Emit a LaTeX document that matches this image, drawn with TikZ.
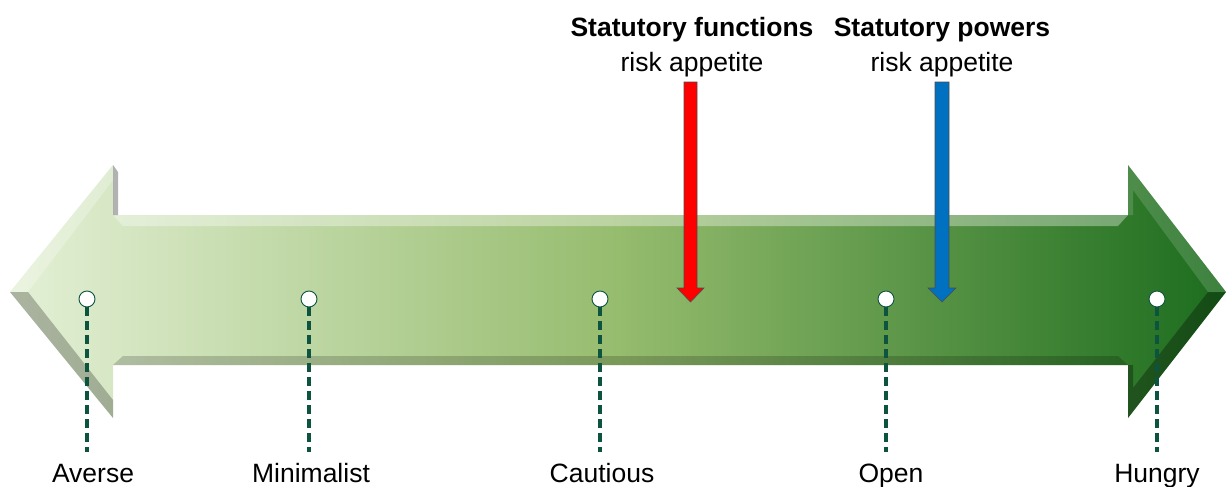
\documentclass[tikz,border=0pt]{standalone}
\usepackage{fontspec}
\setmainfont{Liberation Sans}
\usetikzlibrary{shapes.geometric}
\definecolor{gL}{RGB}{228,240,214}
\definecolor{gM}{RGB}{150,188,110}
\definecolor{gR}{RGB}{28,108,30}
\definecolor{guidecol}{RGB}{12,84,64}
\definecolor{redar}{RGB}{255,0,0}
\definecolor{bluear}{RGB}{0,112,192}
\tikzset{
  mark dot/.style={circle,draw=guidecol,fill=white,line width=0.9pt,minimum size=16pt,inner sep=0pt},
  guide/.style={draw=guidecol,line width=3.2pt,dash pattern=on 9pt off 5pt},
  scale lbl/.style={font=\fontsize{26.5}{28}\selectfont,anchor=base},
  head lbl/.style={font=\fontsize{26.5}{28}\selectfont\bfseries,anchor=base},
  sub lbl/.style={font=\fontsize{26.5}{28}\selectfont,anchor=base},
}
\begin{document}
\begin{tikzpicture}[x=1pt,y=-1pt]
\useasboundingbox (0,0) rectangle (1226,487);
% double arrow body
\path[left color=gL,right color=gR,middle color=gM]
  (10,292) -- (113,165) -- (113,215) -- (1128,215) -- (1128,165) -- (1226,292)
  -- (1128,418) -- (1128,365) -- (113,365) -- (113,418) -- cycle;
% bevel highlights / shadows
\fill[white,opacity=0.35] (113,215) -- (1128,215) -- (1118,226) -- (123,226) -- cycle;
\fill[black,opacity=0.18] (123,356) -- (1118,356) -- (1128,365) -- (113,365) -- cycle;
\fill[white,opacity=0.25] (10,292) -- (113,165) -- (113,180) -- (28,292) -- cycle;
\fill[black,opacity=0.25] (10,292) -- (28,292) -- (113,400) -- (113,418) -- cycle;
\fill[black,opacity=0.3] (113,165) -- (118,172) -- (118,215) -- (113,215) -- cycle;
\fill[black,opacity=0.3] (1128,365) -- (1128,418) -- (1226,292) -- (1208,292) -- (1133,388) -- (1133,365) -- cycle;
\fill[white,opacity=0.15] (1128,165) -- (1226,292) -- (1208,292) -- (1133,190) -- (1133,215) -- (1128,215) -- cycle;
% markers
\foreach \n/\x in {av/87,mi/309,ca/600,op/886,hu/1157}{
  \node[mark dot] (d\n) at (\x,299) {};
  \coordinate (e\n) at (\x,452);
  \draw[guide] (d\n.south) -- (e\n);
}
\node[scale lbl] (lav) at (93,482) {Averse};
\node[scale lbl] (lmi) at (311,482) {Minimalist};
\node[scale lbl] (lca) at (602,482) {Cautious};
\node[scale lbl] (lop) at (891,482) {Open};
\node[scale lbl] (lhu) at (1157,482) {Hungry};
% red arrow
\filldraw[fill=redar,draw=black!70,line width=0.6pt]
  (684,82) -- (697,82) -- (697,288) -- (704,288) -- (690.5,302) -- (677,288) -- (684,288) -- cycle;
% blue arrow
\filldraw[fill=bluear,draw=black!70,line width=0.6pt]
  (935,82) -- (949,82) -- (949,288) -- (956,288) -- (942,302) -- (928,288) -- (935,288) -- cycle;
\node[head lbl] (hf) at (692,37) {Statutory functions};
\node[sub lbl] (sf) at (692,72) {risk appetite};
\node[head lbl] (hp) at (942,37) {Statutory powers};
\node[sub lbl] (sp) at (942,72) {risk appetite};
\end{tikzpicture}
\end{document}
